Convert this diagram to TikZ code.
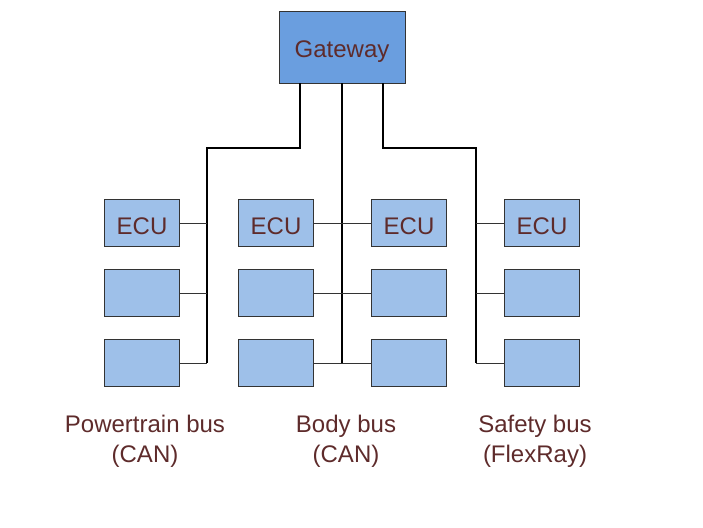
\documentclass[tikz,border=0pt]{standalone}
\usepackage{fontspec}
\setmainfont{Liberation Sans}
\usepackage{xcolor}
\definecolor{gwblue}{HTML}{6A9EDF}
\definecolor{ecublue}{HTML}{9EC0E9}
\definecolor{txtbrown}{HTML}{5E2B2B}

\begin{document}
\begin{tikzpicture}[x=1pt, y=-1pt, font=\fontsize{24}{30}\selectfont,
  ecu/.style={draw=black!80, fill=ecublue, minimum width=75pt, minimum height=47pt, inner sep=0pt, text height=22pt, text depth=0pt, text=txtbrown},
  bus/.style={line width=2pt}, stub/.style={line width=0.9pt, black!80},
  buslabel/.style={text=txtbrown, align=center}]
	\useasboundingbox (0,0) rectangle (703,527);
	\node[draw=black!80, fill=gwblue, minimum width=126pt, minimum height=72pt, text height=22pt, text depth=0pt, text=txtbrown] (gw) at (342,47) {Gateway};
	\foreach \col/\cx in {a/142,b/276,c/409,d/542} {
	  \node[ecu] (\col1) at (\cx,223) {ECU};
	  \node[ecu] (\col2) at (\cx,293) {};
	  \node[ecu] (\col3) at (\cx,363) {};
	}
	\coordinate (pwrtop) at (207,148);
	\coordinate (pwr) at (207,363);
	\coordinate (bdy) at (342,363);
	\coordinate (sfytop) at (476,148);
	\coordinate (sfy) at (476,363);
	\draw[bus] ([xshift=-42pt]gw.south) |- (pwrtop) -- (pwr);
	\draw[bus] (gw.south) -- (bdy);
	\draw[bus] ([xshift=41pt]gw.south) |- (sfytop) -- (sfy);
	\foreach \r in {1,2,3} {
	  \draw[stub] (a\r.east) -- (a\r.east -| pwr);
	  \draw[stub] (b\r.east) -- (b\r.east -| bdy);
	  \draw[stub] (c\r.west) -- (c\r.west -| bdy);
	  \draw[stub] (d\r.west) -- (d\r.west -| sfy);
	}
	\node[buslabel] (pwrlabel) at (145,441) {Powertrain bus\\(CAN)};
	\node[buslabel] (bdylabel) at (346,441) {Body bus\\(CAN)};
	\node[buslabel] (sfylabel) at (535,441) {Safety bus\\(FlexRay)};
\end{tikzpicture}
\end{document}
